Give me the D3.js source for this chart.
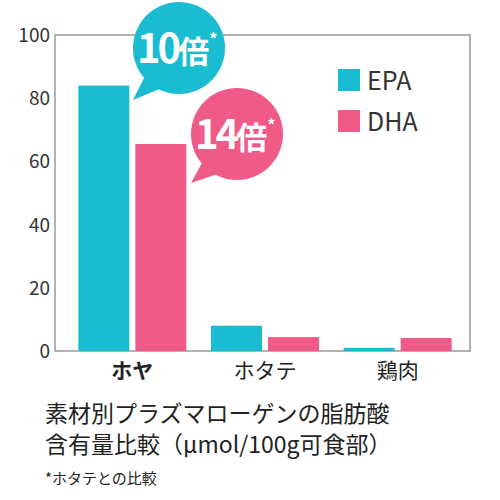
<!DOCTYPE html><html><head><meta charset="utf-8"><script src="https://cdn.jsdelivr.net/npm/d3@7"></script>
<style>body{margin:0;background:#fff}text{font-family:"Noto Sans CJK JP","Noto Sans",sans-serif}</style></head><body><svg id="c" width="500" height="500"></svg><script>
const categories=["ホヤ","ホタテ","鶏肉"];
const seriesNames=["EPA","DHA"];
const epa=[84,8,1];
const dha=[65.5,4.4,4.1];
const yTicks=[0,20,40,60,80,100];
const colors=["#19bcd0","#f05a87"];
const svg=d3.select("#c");
const L=55,R=470,T=35,B=351;
const x=d3.scaleBand().domain(categories).range([66,464]);
const y=d3.scaleLinear().domain([0,100]).range([B,T]);
const bw=51,gap=6;
svg.append("rect").attr("x",L).attr("y",T).attr("width",R-L).attr("height",B-T).attr("fill","none").attr("stroke","#999").attr("stroke-width",1.5);
[epa,dha].forEach((s,si)=>{svg.selectAll(null).data(s).enter().append("rect")
 .attr("x",(d,i)=>x(categories[i])+x.bandwidth()/2+(si===0?-(bw+gap/2):gap/2))
 .attr("y",d=>y(d)).attr("width",bw).attr("height",d=>B-y(d)).attr("fill",colors[si]);});
svg.selectAll(null).data(yTicks).enter().append("text").attr("x",50).attr("y",d=>y(d)+7).attr("text-anchor","end").attr("font-size",19).attr("font-family","Liberation Sans, sans-serif").attr("fill","#333").text(d=>d);
svg.selectAll(null).data(categories).enter().append("text").attr("x",d=>x(d)+x.bandwidth()/2).attr("y",378).attr("text-anchor","middle").attr("font-size",21).attr("font-weight",(d,i)=>i===0?"bold":"normal").attr("fill","#222").text(d=>d);
function bubble(cx,cy,tx,ty,col,label){
 const g=svg.append("g");
 g.append("path").attr("d",`M${cx-30},${cy+20} L${tx},${ty} L${cx-5},${cy+35}Z`).attr("fill",col);
 g.append("circle").attr("cx",cx).attr("cy",cy).attr("r",46).attr("fill",col);
 const t=g.append("text").attr("x",cx-42).attr("y",cy+15).attr("fill","#fff").attr("font-weight","bold");
 t.append("tspan").attr("font-size",40).attr("letter-spacing",-3).text(label);
 t.append("tspan").attr("font-size",31).text("倍");
 t.append("tspan").attr("font-size",16).attr("dy",-18).text("*");
}
bubble(179,48,133,100,colors[0],"10");
bubble(237,134,191,183,colors[1],"14");
seriesNames.forEach((n,i)=>{svg.append("rect").attr("x",338).attr("y",69+i*41).attr("width",22).attr("height",22).attr("fill",colors[i]);
 svg.append("text").attr("x",367).attr("y",90+i*41).attr("font-size",25).attr("font-family","Liberation Sans, sans-serif").attr("fill","#333").text(n);});
svg.append("text").attr("x",45).attr("y",422).attr("font-size",23).attr("fill","#222").text("素材別プラズマローゲンの脂肪酸");
svg.append("text").attr("x",45).attr("y",453).attr("font-size",23).attr("fill","#222").text("含有量比較（μmol/100g可食部）");
svg.append("text").attr("x",45).attr("y",484).attr("font-size",15).attr("fill","#222").text("*ホタテとの比較");
</script></body></html>
